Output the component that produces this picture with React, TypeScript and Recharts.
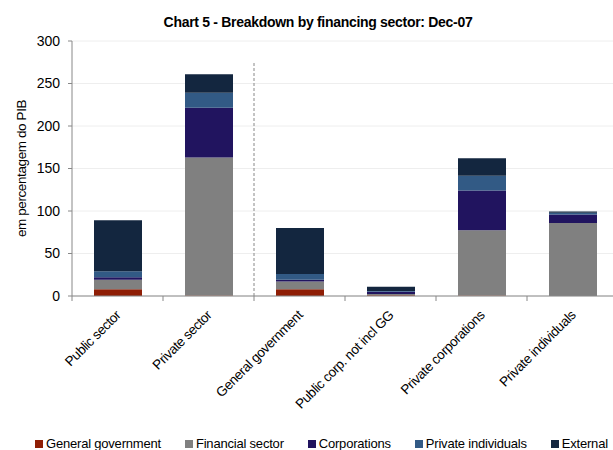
import { BarChart, Bar, XAxis, YAxis, CartesianGrid, Legend, ReferenceLine } from 'recharts';

const categories = [
  'Public sector',
  'Private sector',
  'General government',
  'Public corp. not incl GG',
  'Private corporations',
  'Private individuals',
];
const generalGovernment = [8, 0.5, 8, 1, 0.5, 0];
const financialSector = [11, 162.5, 9, 1.5, 77, 86];
const corporations = [3, 58.5, 2, 2.5, 46.5, 10];
const privateIndividuals = [7, 17.5, 7, 1, 17.5, 2];
const external = [60, 22, 54, 5, 20.5, 1.5];
const yTicks = [0, 50, 100, 150, 200, 250, 300];

const series = [
  { key: 'gg', name: 'General government', color: '#8f1e05' },
  { key: 'fin', name: 'Financial sector', color: '#808080' },
  { key: 'corp', name: 'Corporations', color: '#21145f' },
  { key: 'pi', name: 'Private individuals', color: '#325a85' },
  { key: 'ext', name: 'External', color: '#13263f' },
];

const data = categories.map((name, i) => ({
  name,
  gg: generalGovernment[i],
  fin: financialSector[i],
  corp: corporations[i],
  pi: privateIndividuals[i],
  ext: external[i],
}));

const FONT = "'Liberation Sans', Arial, sans-serif";

const CategoryTick = (props: any) => {
  const { x, y, payload, width, visibleTicksCount } = props;
  const band = width && visibleTicksCount ? width / visibleTicksCount : 91;
  return (
    <g>
      <line x1={x - band / 2} x2={x - band / 2} y1={y} y2={y + 5} stroke="#888" />
      <text
        x={x + 4}
        y={y + 20}
        textAnchor="end"
        transform={`rotate(-45, ${x + 4}, ${y + 20})`}
        fontSize={13.5}
        fontFamily={FONT}
        letterSpacing={-0.4}
        fill="#000"
      >
        {payload.value}
      </text>
    </g>
  );
};

const renderLegend = () => (
  <div
    style={{
      display: 'flex',
      gap: 24,
      paddingLeft: 35,
      fontFamily: FONT,
      fontSize: 13,
      letterSpacing: -0.2,
      color: '#000',
    }}
  >
    {series.map((s) => (
      <div key={s.key} style={{ display: 'flex', alignItems: 'center', gap: 3, whiteSpace: 'nowrap' }}>
        <span style={{ width: 8, height: 8, background: s.color, display: 'inline-block' }} />
        <span>{s.name}</span>
      </div>
    ))}
  </div>
);

const App = () => {
  return (
    <div style={{ position: 'absolute', left: 0, top: 0, width: 613, height: 450, overflow: 'hidden', background: '#fff' }}>
      <div
        style={{
          position: 'absolute',
          left: 0,
          width: 636,
          top: 14,
          textAlign: 'center',
          fontFamily: FONT,
          fontWeight: 'bold',
          fontSize: 14,
          letterSpacing: -0.3,
          color: '#000',
        }}
      >
        Chart 5 - Breakdown by financing sector: Dec-07
      </div>
      <BarChart width={621} height={450} data={data} margin={{ top: 41, right: 3, left: 0, bottom: 0 }}>
        <CartesianGrid vertical={false} stroke="#eeeeee" />
        <XAxis
          dataKey="name"
          height={154}
          interval={0}
          tickSize={0}
          tickMargin={0}
          tickLine={false}
          axisLine={{ stroke: '#888' }}
          tick={<CategoryTick />}
        />
        <YAxis
          width={72}
          domain={[0, 300]}
          ticks={yTicks}
          interval={0}
          tickSize={4}
          tickMargin={8}
          axisLine={{ stroke: '#888' }}
          tickLine={{ stroke: '#888' }}
          tick={{ fontSize: 14, fontFamily: FONT, fill: '#000' }}
          label={{
            value: 'em percentagem do PIB',
            angle: -90,
            position: 'insideLeft',
            offset: 21,
            style: { textAnchor: 'middle', fontSize: 13.5, fontFamily: FONT, letterSpacing: -0.4, fill: '#000' },
          }}
        />
        <ReferenceLine
          segment={[
            { x: 'General government', y: 0 },
            { x: 'General government', y: 275 },
          ]}
          position="start"
          stroke="#888"
          strokeDasharray="3 2"
        />
        {series.map((s) => (
          <Bar key={s.key} dataKey={s.key} name={s.name} stackId="a" fill={s.color} barSize={48} isAnimationActive={false} />
        ))}
        <Legend
          layout="horizontal"
          verticalAlign="middle"
          align="center"
          content={renderLegend}
          wrapperStyle={{ top: 436, left: 0, width: 613 }}
        />
      </BarChart>
    </div>
  );
};

export default App;
